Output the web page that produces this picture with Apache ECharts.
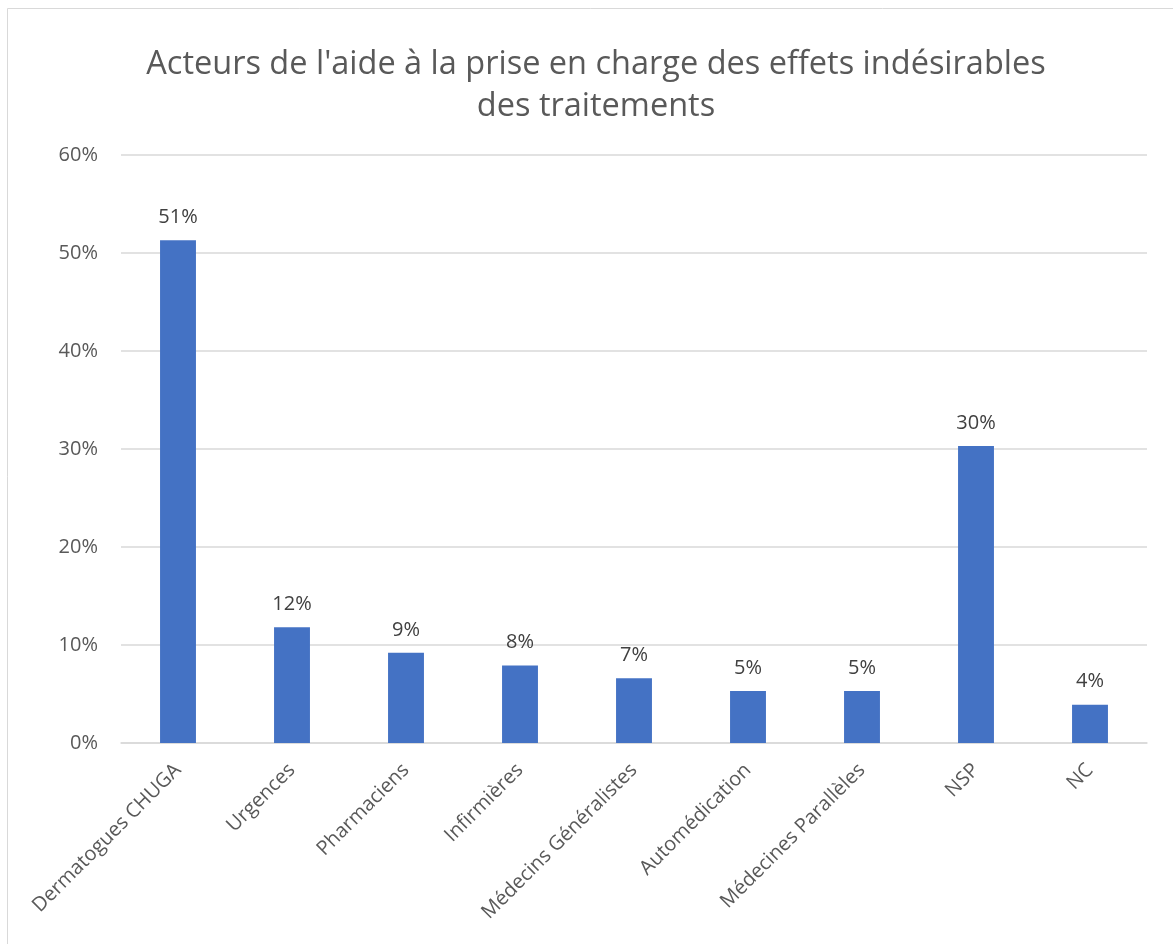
<!DOCTYPE html>
<html>
<head>
<meta charset="utf-8">
<script src="https://cdn.jsdelivr.net/npm/echarts@6/dist/echarts.min.js"></script>
<style>
  html, body { margin: 0; padding: 0; background: #fff; }
  #chart { width: 1173px; height: 944px; }
</style>
</head>
<body>
<div id="chart"></div>
<script>
// categories and values (percent of respondents)
let categories = [
    'Dermatogues CHUGA', 'Urgences', 'Pharmaciens', 'Infirmières',
    'Médecins Généralistes', 'Automédication', 'Médecines Parallèles', 'NSP', 'NC'
];
let values = [51.3, 11.8, 9.2, 7.9, 6.6, 5.3, 5.3, 30.3, 3.9];
let yTicks = [0, 10, 20, 30, 40, 50, 60];

let chart = echarts.init(document.getElementById('chart'));

let option = {
    backgroundColor: '#fff',
    animation: false,
    textStyle: { fontFamily: 'Open Sans' },
    graphic: [{
        type: 'rect',
        shape: { x: 7.5, y: 8.5, width: 1200, height: 1000 },
        style: { fill: 'none', stroke: '#d9d9d9', lineWidth: 1 },
        silent: true
    }],
    title: {
        text: "Acteurs de l'aide à la prise en charge des effets indésirables\ndes traitements",
        left: 591,
        top: 39,
        textAlign: 'center',
        textStyle: {
            fontFamily: 'Open Sans',
            fontWeight: 'normal',
            fontSize: 32.5,
            lineHeight: 42,
            color: '#595959'
        }
    },
    grid: { left: 121, right: 26, top: 155, bottom: 201, containLabel: false },
    xAxis: {
        type: 'category',
        data: categories,
        axisLine: { show: true, lineStyle: { color: '#d9d9d9', width: 1.5 } },
        axisTick: { show: false },
        axisLabel: {
            interval: 0,
            rotate: 45,
            margin: 24,
            fontSize: 20,
            color: '#595959'
        }
    },
    yAxis: {
        type: 'value',
        min: yTicks[0],
        max: yTicks[yTicks.length - 1],
        interval: 10,
        axisLine: { show: false },
        axisTick: { show: false },
        splitLine: { lineStyle: { color: '#d9d9d9', width: 1.5 } },
        axisLabel: {
            margin: 23,
            fontSize: 20,
            color: '#595959',
            formatter: v => v + '%'
        }
    },
    series: [{
        type: 'bar',
        data: values,
        barWidth: '31.5%',
        itemStyle: { color: '#4472c4' },
        label: {
            show: true,
            position: 'top',
            distance: 13,
            fontSize: 20,
            color: '#404040',
            formatter: p => Math.round(p.value) + '%'
        }
    }]
};

chart.setOption(option);
</script>
</body>
</html>
